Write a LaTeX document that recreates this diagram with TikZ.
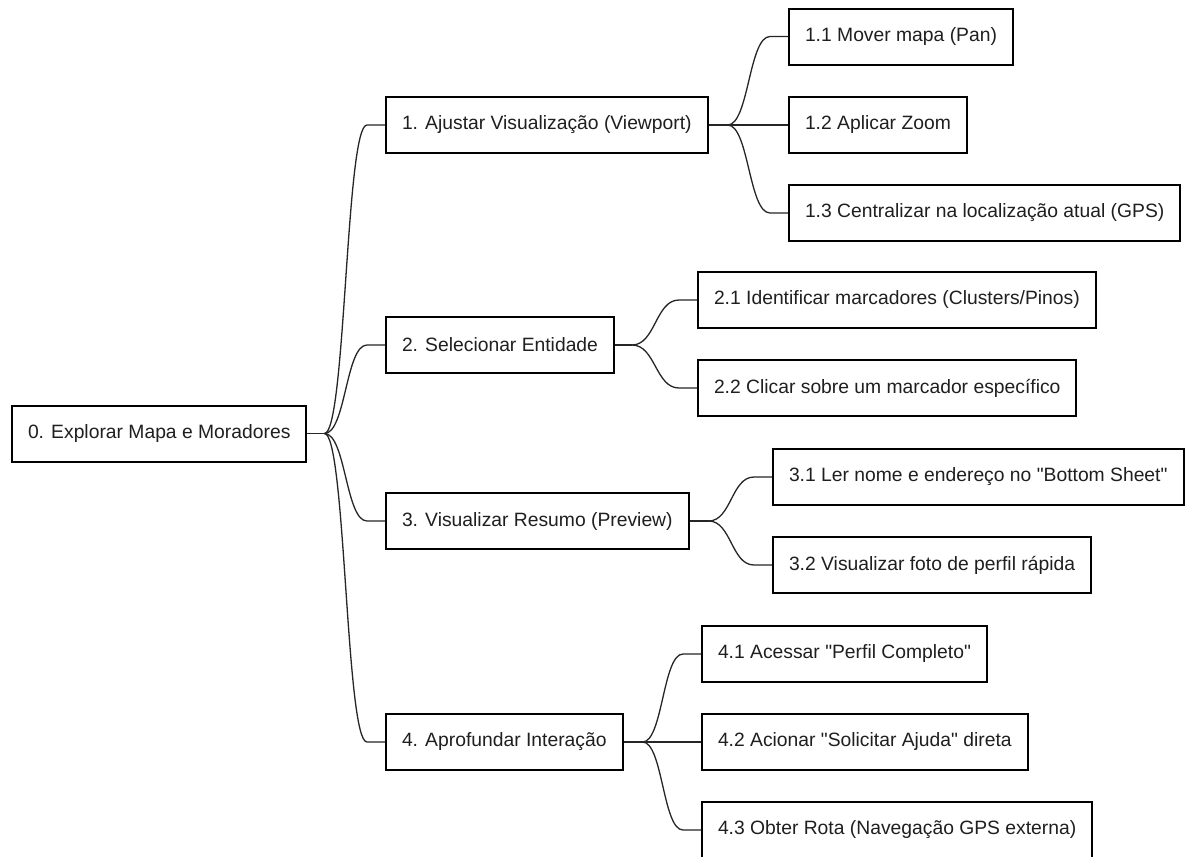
\documentclass[tikz,border=0pt]{standalone}
\usepackage{fontspec}
\setmainfont{Liberation Sans}
\usetikzlibrary{calc}

\tikzset{
  topic/.style={draw=black, line width=2pt, fill=white, anchor=west,
    minimum height=56pt, inner xsep=16pt, inner ysep=0pt,
    font=\fontsize{19.3pt}{23pt}\selectfont, text=black!88},
  link/.style={line width=1.3pt, draw=black!85},
}

% straight double quote
\newcommand\dq{\textquotedbl}

% S-shaped connector from a branch point to the left side of a child box
\newcommand\branchto[2]{%
  \coordinate (stubstart) at ([xshift=-18pt]#2.west);
  \coordinate (midpt) at ($(#1)!0.5!(stubstart)$);
  \draw[link] (#1) .. controls (midpt |- #1) and (midpt |- stubstart) .. (stubstart) -- (#2.west);
}

\begin{document}
\begin{tikzpicture}[x=1pt, y=-1pt]
  \useasboundingbox (0,0) rectangle (1187,857);
  \fill[white] (0,0) rectangle (1187,857);

  % root
  \node[topic] (root) at (11,433.5) {0. Explorar Mapa e Moradores};

  % first level
  \node[topic] (a) at (385,125) {1. Ajustar Visualização (Viewport)};
  \node[topic] (b) at (385,345) {2. Selecionar Entidade};
  \node[topic] (c) at (385,521) {3. Visualizar Resumo (Preview)};
  \node[topic] (d) at (385,742) {4. Aprofundar Interação};

  % second level
  \node[topic] (a1) at (788,36.5) {1.1 Mover mapa (Pan)};
  \node[topic] (a2) at (788,125) {1.2 Aplicar Zoom};
  \node[topic] (a3) at (788,213) {1.3 Centralizar na localização atual (GPS)};

  \node[topic] (b1) at (697,300) {2.1 Identificar marcadores (Clusters/Pinos)};
  \node[topic] (b2) at (697,388) {2.2 Clicar sobre um marcador específico};

  \node[topic] (c1) at (772,477) {3.1 Ler nome e endereço no \dq Bottom Sheet\dq};
  \node[topic] (c2) at (772,565) {3.2 Visualizar foto de perfil rápida};

  \node[topic] (d1) at (701,654) {4.1 Acessar \dq Perfil Completo\dq};
  \node[topic] (d2) at (701,742) {4.2 Acionar \dq Solicitar Ajuda\dq{} direta};
  \node[topic] (d3) at (701,830) {4.3 Obter Rota (Navegação GPS externa)};

  % branch points
  \draw[link] (root.east) -- ++(17pt,0) coordinate (broot);
  \draw[link] (a.east) -- ++(19pt,0) coordinate (ba);
  \draw[link] (b.east) -- ++(17pt,0) coordinate (bb);
  \draw[link] (c.east) -- ++(19pt,0) coordinate (bc);
  \draw[link] (d.east) -- ++(19pt,0) coordinate (bd);

  % connectors
  \branchto{broot}{a}
  \branchto{broot}{b}
  \branchto{broot}{c}
  \branchto{broot}{d}

  \branchto{ba}{a1}
  \branchto{ba}{a2}
  \branchto{ba}{a3}

  \branchto{bb}{b1}
  \branchto{bb}{b2}

  \branchto{bc}{c1}
  \branchto{bc}{c2}

  \branchto{bd}{d1}
  \branchto{bd}{d2}
  \branchto{bd}{d3}
\end{tikzpicture}
\end{document}
